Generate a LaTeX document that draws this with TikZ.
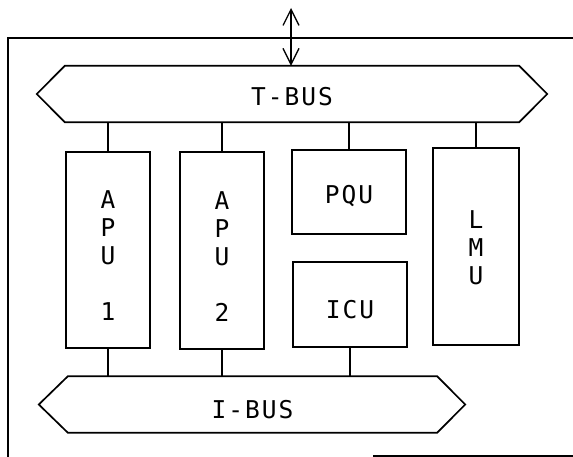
\documentclass[tikz,border=0pt]{standalone}
\usepackage{fontspec}
\newfontfamily\plotfont[LetterSpace=8]{DejaVu Sans Mono}
\usepackage{tikz}
\usetikzlibrary{arrows.meta}

\begin{document}
\begin{tikzpicture}[
        x=1pt, y=-1pt,
        every node/.style={font={\plotfont\fontsize{24.5}{28}\selectfont}},
        unit/.style={
            draw,
            line width=1.7pt,
            inner sep=0pt
        },
        bus/.style={inner sep=0pt, minimum height=56pt},
        busline/.style={line width=1.7pt},
        link/.style={line width=1.3pt},
        frame/.style={line width=1.7pt},
        arrow/.style={{Straight Barb[length=16pt,width=16pt]}-{Straight Barb[length=16pt,width=16pt]}, line width=1.3pt},
        txt/.style={align=center, inner sep=0pt}
    ]
        \useasboundingbox (0,0) rectangle (573,457);

        % outer frame
        \draw[frame] (8,457) -- (8,38) -- (573,38);
        \draw[frame] (373,456) -- (573,456);

        \node[bus, minimum width=454pt] (tbus) at (292,94) {};
        \draw[busline] (tbus.north west) -- (tbus.north east) -- ([xshift=28pt]tbus.east)
            -- (tbus.south east) -- (tbus.south west) -- ([xshift=-28pt]tbus.west) -- cycle;
        \node[txt] (tbust) at ([yshift=-3pt]tbus.center) {T-BUS};

        \node[bus, minimum width=369pt] (ibus) at (252.5,404.5) {};
        \draw[busline] (ibus.north west) -- (ibus.north east) -- ([xshift=28pt]ibus.east)
            -- (ibus.south east) -- (ibus.south west) -- ([xshift=-29pt]ibus.west) -- cycle;
        \node[txt] (ibust) at ([yshift=-5pt]ibus.center) {I-BUS};

        \node[unit, minimum width=84pt, minimum height=196pt] (apu1) at (108,250) {};
        \node[txt] (apu1t) at ([yshift=-6pt]apu1.center) {A\\P\\U\\[28pt]1};

        \node[unit, minimum width=84pt, minimum height=197pt] (apu2) at (222,250.5) {};
        \node[txt] (apu2t) at ([yshift=-6pt]apu2.center) {A\\P\\U\\[28pt]2};

        \node[unit, minimum width=114pt, minimum height=84pt] (pqu) at (349,192) {};
        \node[txt] (pqut) at ([yshift=-4.5pt]pqu.center) {PQU};

        \node[unit, minimum width=114pt, minimum height=85pt] (icu) at (350,304.5) {};
        \node[txt] (icut) at ([yshift=-5.5pt]icu.center) {ICU};

        \node[unit, minimum width=86pt, minimum height=197pt] (lmu) at (476,246.5) {};
        \node[txt] (lmut) at ([yshift=-1pt]lmu.center) {L\\M\\U};

        % external link
        \coordinate (ext) at (291,8);
        \draw[arrow] (ext) -- (ext |- tbus.north);

        \draw[link] (apu1.north) -- (apu1.north |- tbus.south);
        \draw[link] (apu2.north) -- (apu2.north |- tbus.south);
        \draw[link] (pqu.north) -- (pqu.north |- tbus.south);
        \draw[link] (lmu.north) -- (lmu.north |- tbus.south);

        \draw[link] (apu1.south) -- (apu1.south |- ibus.north);
        \draw[link] (apu2.south) -- (apu2.south |- ibus.north);
        \draw[link] (icu.south) -- (icu.south |- ibus.north);

    \end{tikzpicture}
\end{document}
